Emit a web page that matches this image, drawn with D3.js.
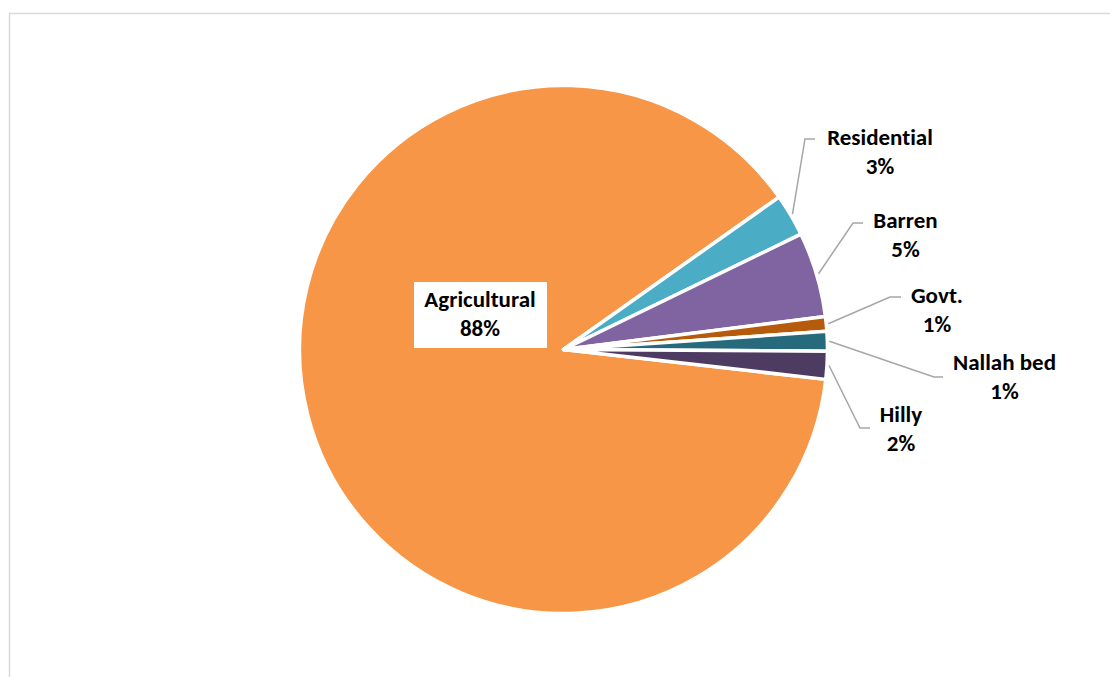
<!DOCTYPE html>
<html>
<head>
<meta charset="utf-8">
<script src="https://cdn.jsdelivr.net/npm/d3@7"></script>
<style>
  html, body { margin: 0; padding: 0; background: #fff; }
  svg text { font-family: Calibri, Carlito, Lato, sans-serif; font-weight: 700; fill: #000; font-variant-ligatures: none; }
</style>
</head>
<body>
<div id="chart"></div>
<script>
// data
const categories = ["Agricultural", "Residential", "Barren", "Govt.", "Nallah bed", "Hilly"];
const shares = [88.4, 2.6, 5.2, 0.9, 1.2, 1.7];
const colors = ["#F79646", "#4BACC6", "#8064A2", "#B65A0C", "#276A7C", "#4E3B62"];

const w = 1110, h = 677;
const cx = 563.5, cy = 349.5, r = 264;

// label layout: line1 baseline, text centre x, leader knee and end
const labelPos = [
    { x: 480, y: 307, inside: true },
    { x: 880, y: 145, knee: [805, 139], end: 815 },
    { x: 905.5, y: 228, knee: [853, 223], end: 863 },
    { x: 937, y: 303, knee: [890, 297], end: 901 },
    { x: 1004.5, y: 370, knee: [934, 377], end: 943 },
    { x: 901, y: 422, knee: [860, 428], end: 870 }
];

const svg = d3.select("#chart").append("svg")
    .attr("width", w)
    .attr("height", h);

// chart area border
svg.append("rect")
    .attr("x", 9.5).attr("y", 13.5)
    .attr("width", 1300).attr("height", 900)
    .attr("fill", "none")
    .attr("stroke", "#D9D9D9")
    .attr("stroke-width", 1.5);

const total = d3.sum(shares);
const startA = 96.5 * Math.PI / 180;

const pie = d3.pie().sort(null)
    .startAngle(startA)
    .endAngle(startA + 2 * Math.PI);

const arc = d3.arc().innerRadius(0).outerRadius(r);

const g = svg.append("g").attr("transform", "translate(" + cx + "," + cy + ")");

const arcs = pie(shares);

g.selectAll("path.slice")
    .data(arcs)
    .enter()
    .append("path")
    .attr("class", "slice")
    .attr("d", arc)
    .attr("fill", (d, i) => colors[i])
    .attr("stroke", "#fff")
    .attr("stroke-width", 3.5)
    .attr("stroke-linejoin", "round");

// leader lines
arcs.forEach((d, i) => {
    const p = labelPos[i];
    if (p.inside) return;
    const mid = (d.startAngle + d.endAngle) / 2;
    const sx = cx + (r + 2) * Math.sin(mid);
    const sy = cy - (r + 2) * Math.cos(mid);
    svg.append("polyline")
        .attr("points", [[sx, sy], p.knee, [p.end, p.knee[1]]].map(q => q.join(",")).join(" "))
        .attr("fill", "none")
        .attr("stroke", "#A6A6A6")
        .attr("stroke-width", 1.5);
});

// labels
arcs.forEach((d, i) => {
    const p = labelPos[i];
    const pct = Math.round(shares[i] / total * 100) + "%";
    const lg = svg.append("g");
    if (p.inside) {
        lg.append("rect")
            .attr("x", 414).attr("y", 282)
            .attr("width", 133).attr("height", 66)
            .attr("fill", "#fff");
    }
    const t = lg.append("text")
        .attr("text-anchor", "middle")
        .style("font-size", "23px");
    t.append("tspan").attr("x", p.x).attr("y", p.y).text(categories[i]);
    t.append("tspan").attr("x", p.x).attr("y", p.y + 29).text(pct);
});
</script>
</body>
</html>
